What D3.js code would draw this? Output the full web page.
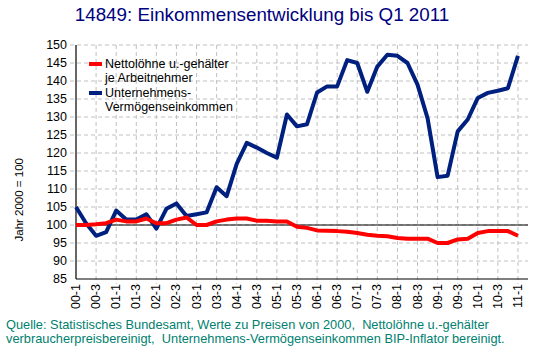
<!DOCTYPE html>
<html>
<head>
<meta charset="utf-8">
<script src="https://cdn.jsdelivr.net/npm/d3@7"></script>
<style>
  body { margin: 0; background: #fff; }
  text { font-family: "Liberation Sans", Arial, sans-serif; white-space: pre; }
</style>
</head>
<body>
<div id="chart"></div>
<script>
// quarters 2000 Q1 .. 2011 Q1
let quarters = [];
for (let y = 0; y <= 11; y++) {
    for (let q = 1; q <= 4; q++) {
        if (y === 11 && q > 1) break;
        quarters.push(String(y).padStart(2, "0") + "-" + q);
    }
}

// Nettolöhne u.-gehälter je Arbeitnehmer
let wages = [100, 100, 100.2, 100.5, 101.5, 101, 101, 101.8, 100.5, 100.5, 101.5, 102.1,
    100, 100, 101, 101.5, 101.8, 101.8, 101.2, 101.2, 101, 101, 99.5, 99.2,
    98.5, 98.4, 98.3, 98.1, 97.8, 97.3, 97, 96.9, 96.4, 96.2, 96.2, 96.2,
    95, 95, 96, 96.2, 97.8, 98.3, 98.3, 98.3, 97];

// Unternehmens-Vermögenseinkommen
let profits = [105, 100.5, 97, 98, 104, 101.5, 101.5, 103, 99, 104.5, 106, 102.5,
    103, 103.5, 110.5, 108, 117, 122.8, 121.5, 120, 118.7, 130.7, 127.4, 128,
    136.8, 138.5, 138.5, 145.8, 145, 137, 144, 147.3, 147, 145, 139, 129.7,
    113.3, 113.7, 126, 129.3, 135.3, 136.7, 137.3, 138, 147];

let yTicks = d3.range(85, 151, 5);

let width = 534, height = 351;
let margin = {top: 45, right: 6, bottom: 72, left: 76};
let w = width - margin.left - margin.right,
    h = height - margin.top - margin.bottom;

let svg = d3.select("#chart").append("svg")
    .attr("width", width)
    .attr("height", height);

// title
svg.append("text")
    .attr("x", 262)
    .attr("y", 21)
    .attr("text-anchor", "middle")
    .attr("fill", "#000080")
    .style("font-size", "18.8px")
    .text("14849: Einkommensentwicklung bis Q1 2011");

let g = svg.append("g")
    .attr("transform", "translate(" + margin.left + "," + margin.top + ")");

// scales
let x = d3.scaleLinear().domain([0, 45]).range([0, w]);
let y = d3.scaleLinear().domain([85, 150]).range([h, 0]);

// grid
g.append("g").selectAll("line")
    .data(yTicks.slice(1))
    .enter().append("line")
    .attr("x1", -6).attr("x2", w)
    .attr("y1", d => y(d)).attr("y2", d => y(d))
    .attr("stroke", "#c0c0c0")
    .attr("stroke-dasharray", "4,3");

let labelIdx = d3.range(0, quarters.length, 2);
g.append("g").selectAll("line")
    .data(labelIdx.slice(1))
    .enter().append("line")
    .attr("x1", d => x(d)).attr("x2", d => x(d))
    .attr("y1", 0).attr("y2", h + 5)
    .attr("stroke", "#c0c0c0")
    .attr("stroke-dasharray", "4,3");

// y axis labels
g.append("g").selectAll("text")
    .data(yTicks)
    .enter().append("text")
    .attr("x", -9)
    .attr("y", d => y(d) + 4)
    .attr("text-anchor", "end")
    .style("font-size", "12.5px")
    .text(d => d);

// x axis labels
g.append("g").selectAll("text")
    .data(labelIdx)
    .enter().append("text")
    .attr("transform", d => "translate(" + (x(d) + 4) + "," + (h + 5) + ") rotate(-90)")
    .attr("text-anchor", "end")
    .style("font-size", "12.5px")
    .text(d => quarters[d]);

// axis lines
g.append("line").attr("x1", 0).attr("x2", 0).attr("y1", 0).attr("y2", h)
    .attr("stroke", "#000").attr("stroke-width", 1.2);
g.append("line").attr("x1", 0).attr("x2", w).attr("y1", h).attr("y2", h)
    .attr("stroke", "#000").attr("stroke-width", 1.2);
g.append("line").attr("x1", 0).attr("x2", w).attr("y1", y(100)).attr("y2", y(100))
    .attr("stroke", "#000").attr("stroke-width", 1.2);

// y title
svg.append("text")
    .attr("transform", "translate(23," + (margin.top + y(107)) + ") rotate(-90)")
    .attr("text-anchor", "middle")
    .style("font-size", "11.5px")
    .text("Jahr 2000 = 100");

// lines
let line = d3.line()
    .x((d, i) => x(i))
    .y(d => y(d));

g.append("path").datum(profits)
    .attr("d", line)
    .attr("fill", "none")
    .attr("stroke", "#002080")
    .attr("stroke-width", 4)
    .attr("stroke-linejoin", "round");

g.append("path").datum(wages)
    .attr("d", line)
    .attr("fill", "none")
    .attr("stroke", "#ff0000")
    .attr("stroke-width", 4)
    .attr("stroke-linejoin", "round");

// legend
let legend = [
    {color: "#ff0000", lines: ["Nettolöhne u.-gehälter", "je Arbeitnehmer"], y: 64},
    {color: "#002080", lines: ["Unternehmens-", "Vermögenseinkommen"], y: 93}
];
legend.forEach(l => {
    svg.append("line")
        .attr("x1", 89).attr("x2", 102)
        .attr("y1", l.y).attr("y2", l.y)
        .attr("stroke", l.color).attr("stroke-width", 4);
    l.lines.forEach((t, i) => {
        svg.append("text")
            .attr("x", 105)
            .attr("y", l.y + 4 + i * 14)
            .style("font-size", "12.5px")
            .text(t);
    });
});

// footer
let footer = [
    "Quelle: Statistisches Bundesamt, Werte zu Preisen von 2000,  Nettolöhne u.-gehälter",
    "verbraucherpreisbereinigt,  Unternehmens-Vermögenseinkommen BIP-Inflator bereinigt."
];
svg.append("g").selectAll("text")
    .data(footer)
    .enter().append("text")
    .attr("x", 6)
    .attr("y", (d, i) => 329 + i * 14)
    .attr("fill", "#007f70")
    .style("font-size", "12.8px")
    .text(d => d);
</script>
</body>
</html>
